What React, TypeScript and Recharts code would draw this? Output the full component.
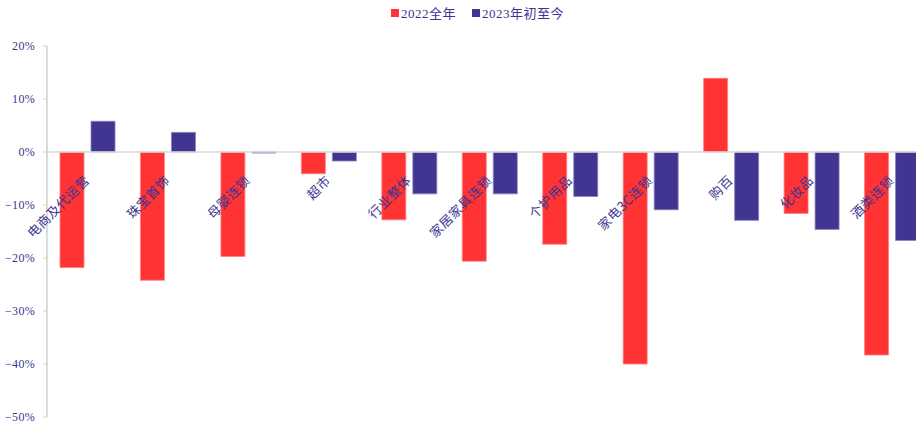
import { BarChart, Bar, XAxis, YAxis, ReferenceLine } from 'recharts';

const categories = ['电商及代运营', '珠宝首饰', '母婴连锁', '超市', '行业整体', '家居家具连锁', '个护用品', '家电3C连锁', '购百', '化妆品', '酒类连锁'];
const full2022 = [-0.218, -0.242, -0.197, -0.041, -0.128, -0.206, -0.174, -0.4, 0.139, -0.116, -0.383];
const ytd2023 = [0.058, 0.037, -0.002, -0.017, -0.079, -0.079, -0.084, -0.109, -0.129, -0.146, -0.167];
const yTicks = [-0.5, -0.4, -0.3, -0.2, -0.1, 0, 0.1, 0.2];

const RED = '#ff3333';
const BLUE = '#413592';
const TEXT = '#3a3592';

const data = categories.map((name, i) => ({ name, a: full2022[i], b: ytd2023[i] }));

// plot box, used to put the category labels on the zero line
const TOP = 46;
const BOTTOM = 12;
const H = 430;
const zeroY = TOP + (0.2 / 0.7) * (H - TOP - BOTTOM);

const CategoryTick = ({ x, payload }: any) => (
  <text
    x={x + 3}
    y={zeroY + 29}
    transform={`rotate(-45 ${x + 3} ${zeroY + 29})`}
    textAnchor="end"
    fill={TEXT}
    fontSize={13}
    letterSpacing={0.5}
    fontFamily="'Noto Sans CJK SC', sans-serif"
  >
    {payload.value}
  </text>
);

const legendItems = [['2022全年', RED], ['2023年初至今', BLUE]];

export default function App() {
  return (
    <div style={{ position: 'absolute', left: 0, top: 0, width: 916, height: 430, overflow: 'hidden', background: '#fff' }}>
      <div style={{ position: 'absolute', top: 3, left: 391, display: 'flex', gap: 16, fontFamily: "'Liberation Serif', 'Noto Sans CJK SC', serif", fontSize: 13, color: TEXT, zIndex: 2 }}>
        {legendItems.map(([label, color]) => (
          <span key={label} style={{ display: 'flex', alignItems: 'center', gap: 2, letterSpacing: 0.5 }}>
            <span style={{ width: 8, height: 8, background: color, display: 'inline-block' }} />
            {label}
          </span>
        ))}
      </div>
      <BarChart
        width={932}
        height={H}
        data={data}
        margin={{ top: TOP, right: 0, bottom: BOTTOM, left: 0 }}
        barSize={24}
        barGap={7}
      >
        <XAxis dataKey="name" axisLine={false} tickLine={false} height={1} interval={0} tick={<CategoryTick />} />
        <YAxis
          domain={[-0.5, 0.2]}
          ticks={yTicks}
          width={47}
          axisLine={{ stroke: '#d0d0d0', strokeWidth: 1.5 }}
          tickLine={{ stroke: '#d0d0d0' }}
          tickSize={4}
          tickMargin={8}
          tickFormatter={(v: number) => `${v < 0 ? '−' : ''}${Math.abs(Math.round(v * 100))}%`}
          tick={{ fill: TEXT, fontSize: 12, fontFamily: "'Liberation Serif', serif", letterSpacing: 0.3 }}
        />
        <ReferenceLine y={0} stroke="#d9d9d9" strokeWidth={1.5} />
        <Bar dataKey="a" name="2022全年" fill={RED} stroke="#ff8080" strokeWidth={0.8} isAnimationActive={false} />
        <Bar dataKey="b" name="2023年初至今" fill={BLUE} stroke="#8a82c0" strokeWidth={0.8} isAnimationActive={false} />
      </BarChart>
    </div>
  );
}
